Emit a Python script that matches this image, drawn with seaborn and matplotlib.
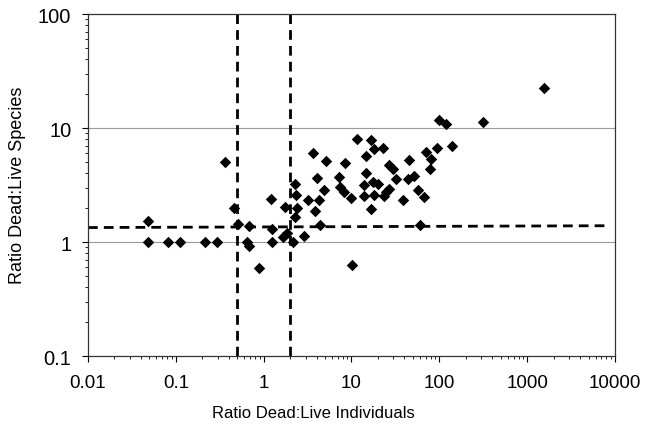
import seaborn as sns
import pandas as pd
import numpy as np
from matplotlib import pyplot as plt
from matplotlib import ticker

# ratio dead:live individuals (x) vs ratio dead:live species (y)
ratio_individuals = [0.048, 0.048, 0.082, 0.113, 0.214, 0.295, 0.365, 0.456, 0.513, 0.65,
                     0.675, 0.684, 0.877, 1.22, 1.23, 1.23, 1.66, 1.73, 1.83, 2.15,
                     2.25, 2.31, 2.40, 2.25, 2.85, 3.19, 3.63, 3.80, 4.05, 4.22,
                     4.33, 4.84, 5.07, 7.12, 7.31, 8.32, 8.48, 9.93, 10.1, 11.6,
                     13.8, 13.8, 14.7, 14.7, 16.7, 18.2, 16.7, 17.5, 18.2, 19.9,
                     22.7, 23.3, 25.0, 27.0, 27.0, 29.5, 32.2, 38.3, 43.6, 45.6,
                     51.0, 57.7, 60.8, 67.6, 70.6, 79.0, 80.5, 94.2, 100, 119,
                     138, 311, 1560]
ratio_species = [1.52, 1.0, 1.0, 1.0, 1.0, 1.0, 5.03, 1.99, 1.45, 1.0,
                 0.93, 1.39, 0.589, 2.40, 1.31, 1.0, 1.11, 2.03, 1.21, 1.0,
                 3.25, 2.57, 2.0, 1.67, 1.14, 2.32, 6.07, 1.89, 3.63, 2.32,
                 1.40, 2.85, 5.17, 3.70, 3.04, 2.75, 4.93, 2.42, 0.632, 8.06,
                 3.18, 2.56, 5.63, 4.05, 7.79, 6.58, 1.96, 3.36, 2.60, 3.25,
                 6.68, 2.56, 2.76, 2.94, 4.70, 4.40, 3.54, 2.32, 3.59, 5.20,
                 3.79, 2.89, 1.42, 2.48, 6.16, 4.40, 5.38, 6.68, 11.7, 10.9,
                 6.95, 11.3, 22.4]

# threshold lines
vertical_cuts = [0.5, 2]
trend_x = [0.01, 7900]
trend_y = [1.34, 1.39]
x_ticks = [0.01, 0.1, 1, 10, 100, 1000, 10000]
y_ticks = [0.1, 1, 10, 100]

df = pd.DataFrame({'ind': ratio_individuals, 'spp': ratio_species})

sns.set_style('ticks')
plt.rcParams['font.family'] = ['Liberation Sans', 'DejaVu Sans']
plt.rcParams['text.color'] = 'black'
plt.rcParams['axes.labelcolor'] = 'black'
plt.rcParams['xtick.color'] = 'black'
plt.rcParams['ytick.color'] = 'black'

fig = plt.figure(figsize=(6.49, 4.35), dpi=100)
ax = fig.add_axes([0.1356, 0.1793, 0.812, 0.786])

ax.set_xscale('log')
ax.set_yscale('log')
ax.set_xlim(0.01, 10000)
ax.set_ylim(0.1, 100)

for v in [1, 10]:
    ax.axhline(v, color='#999999', lw=0.8, zorder=1)

for c in vertical_cuts:
    ax.axvline(c, color='black', lw=2.0, dashes=(3.5, 2.2), zorder=2)
ax.plot(trend_x, trend_y, color='black', lw=2.0, dashes=(3.5, 2.2), zorder=2)

sns.scatterplot(data=df, x='ind', y='spp', marker='D', s=34, color='black',
                linewidth=0, ax=ax, zorder=3)

ax.set_xticks(x_ticks, [f'{v:g}' for v in x_ticks])
ax.set_yticks(y_ticks, [f'{v:g}' for v in y_ticks])
ax.xaxis.set_minor_formatter(ticker.NullFormatter())
ax.yaxis.set_minor_formatter(ticker.NullFormatter())
ax.xaxis.set_minor_locator(ticker.LogLocator(base=10, subs=np.arange(2, 10), numticks=20))
ax.yaxis.set_minor_locator(ticker.LogLocator(base=10, subs=np.arange(2, 10), numticks=20))
ax.tick_params(which='major', length=4, width=0.8, direction='out')
ax.tick_params(axis='x', which='major', labelsize=13.5, pad=9)
ax.tick_params(axis='y', which='major', labelsize=14.5, pad=8)
ax.tick_params(which='minor', length=2.5, width=0.6, direction='out')

for sp in ax.spines.values():
    sp.set_linewidth(0.9)
    sp.set_color('#333333')

ax.set_xlabel('Ratio Dead:Live Individuals', fontsize=12)
ax.set_ylabel('Ratio Dead:Live Species', fontsize=13)
ax.xaxis.set_label_coords(0.427, -0.143)
ax.yaxis.set_label_coords(-0.118, 0.503)

fig.savefig('out.png', dpi=100)
